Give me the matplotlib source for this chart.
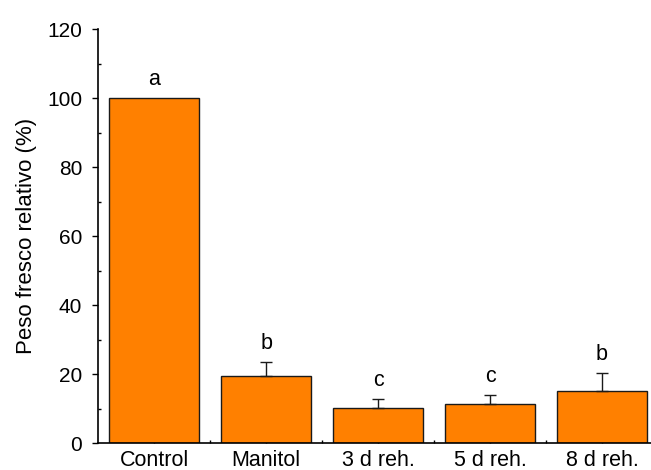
import matplotlib
matplotlib.use("Agg")
import matplotlib.pyplot as plt
from matplotlib.ticker import MultipleLocator

plt.rcParams['font.family'] = ['Liberation Sans', 'DejaVu Sans']

categories = ["Control", "Manitol", "3 d reh.", "5 d reh.", "8 d reh."]
values = [100.0, 19.6, 10.1, 11.3, 15.25]
errors = [0.0, 3.9, 2.65, 2.6, 5.05]
letters = ["a", "b", "c", "c", "b"]

fig = plt.figure(figsize=(6.51, 4.70), dpi=100)
ax = fig.add_axes([98.3 / 651, 26.7 / 470, 1 - 98.3 / 651, (443.3 - 29.3) / 470])

x = list(range(len(categories)))
ax.bar(x, values, width=0.8, color="#FF8000", edgecolor="#1a1a1a", linewidth=1.0, zorder=2)

# upward-only error bars, skipped where the error is zero
ex = [xi for xi, e in zip(x, errors) if e > 0]
ev = [v for v, e in zip(values, errors) if e > 0]
ee = [e for e in errors if e > 0]
ax.errorbar(ex, ev, yerr=[[0] * len(ee), ee], fmt="none",
            ecolor="#1a1a1a", elinewidth=1.0, capsize=4, capthick=1.0, zorder=3)

for xi, v, e, lab in zip(x, values, errors, letters):
    ax.annotate(lab, (xi, v + e), xytext=(0, 9.5), textcoords="offset points",
                ha="center", va="baseline", fontsize=15.5)

ax.set_xlim(-0.5, 4.4375)
ax.set_ylim(0, 120)
ax.yaxis.set_major_locator(MultipleLocator(20))
ax.yaxis.set_minor_locator(MultipleLocator(10))
ax.set_xticks(x)
ax.set_xticklabels(categories, fontsize=15.5)
ax.set_xticks([i + 0.5 for i in x[:-1]], minor=True)

ax.tick_params(axis="y", which="major", direction="out", length=4.5, width=1.0, labelsize=15, pad=7)
ax.tick_params(axis="y", which="minor", direction="in", length=2.5, width=1.0)
ax.tick_params(axis="x", which="major", direction="in", length=2.5, width=1.0, pad=4.5)
ax.tick_params(axis="x", which="minor", direction="in", length=2.5, width=1.0)

for side in ("top", "right"):
    ax.spines[side].set_visible(False)
for side in ("left", "bottom"):
    ax.spines[side].set_linewidth(1.2)

ax.set_ylabel("Peso fresco relativo (%)", fontsize=16, labelpad=7)

fig.savefig("out.png", dpi=100)
